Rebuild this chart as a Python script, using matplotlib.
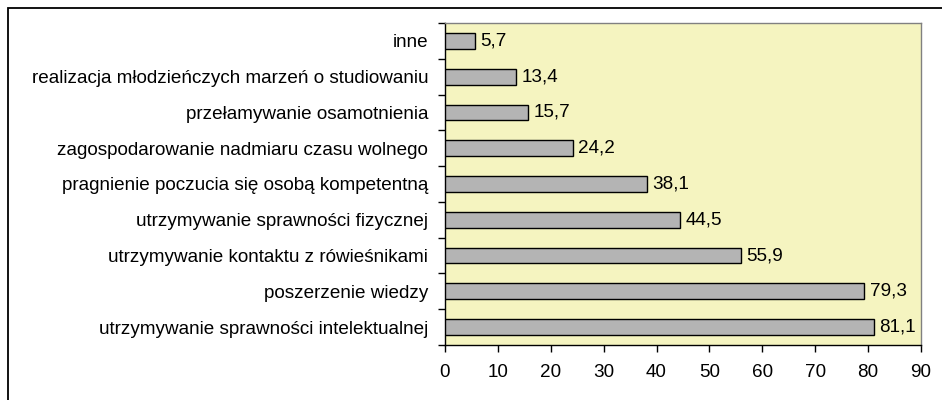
import matplotlib
matplotlib.use("Agg")
import matplotlib.pyplot as plt
from matplotlib.patches import Rectangle

categories = [
    "utrzymywanie sprawności intelektualnej",
    "poszerzenie wiedzy",
    "utrzymywanie kontaktu z rówieśnikami",
    "utrzymywanie sprawności fizycznej",
    "pragnienie poczucia się osobą kompetentną",
    "zagospodarowanie nadmiaru czasu wolnego",
    "przełamywanie osamotnienia",
    "realizacja młodzieńczych marzeń o studiowaniu",
    "inne",
]
values = [81.1, 79.3, 55.9, 44.5, 38.1, 24.2, 15.7, 13.4, 5.7]
xticks = [0, 10, 20, 30, 40, 50, 60, 70, 80, 90]

plt.rcParams['font.family'] = ['Liberation Sans', 'DejaVu Sans']
FS = 13.6

W, H = 942, 400
fig = plt.figure(figsize=(W / 100, H / 100), dpi=100)
fig.patch.set_facecolor('white')

# outer frame
fig.add_artist(Rectangle((8 / W, -0.1), 1.2, (H - 8) / H + 0.1, transform=fig.transFigure,
                         fill=False, edgecolor='black', linewidth=1.3))

left, right, top, bottom = 445, 921, 23, 345
ax = fig.add_axes([left / W, 1 - bottom / H, (right - left) / W, (bottom - top) / H])
ax.set_facecolor('#F5F4C0')

y = list(range(len(categories)))
ax.barh(y, values, height=0.44, color='#B4B4B4', edgecolor='black', linewidth=1.0, zorder=3)
for yi, v in zip(y, values):
    ax.text(v + 1.0, yi, f"{v:.1f}".replace('.', ','), va='center', ha='left', fontsize=FS)

ax.set_xlim(0, 90)
ax.set_ylim(-0.5, len(categories) - 0.5)
ax.set_xticks(xticks)
ax.set_xticklabels([str(t) for t in xticks], fontsize=FS)
ax.set_yticks(y)
ax.set_yticklabels(categories, fontsize=FS)
ax.tick_params(axis='y', length=0, pad=12)
ax.set_yticks([i - 0.5 for i in range(len(categories) + 1)], minor=True)
ax.tick_params(axis='y', which='minor', length=5, width=1, direction='out')
ax.tick_params(axis='x', length=5, width=1, direction='out', pad=9)

for s in ['top', 'right']:
    ax.spines[s].set_color('#808080')
    ax.spines[s].set_linewidth(1)
for s in ['left', 'bottom']:
    ax.spines[s].set_color('black')
    ax.spines[s].set_linewidth(1)

fig.savefig('out.png', dpi=100)
